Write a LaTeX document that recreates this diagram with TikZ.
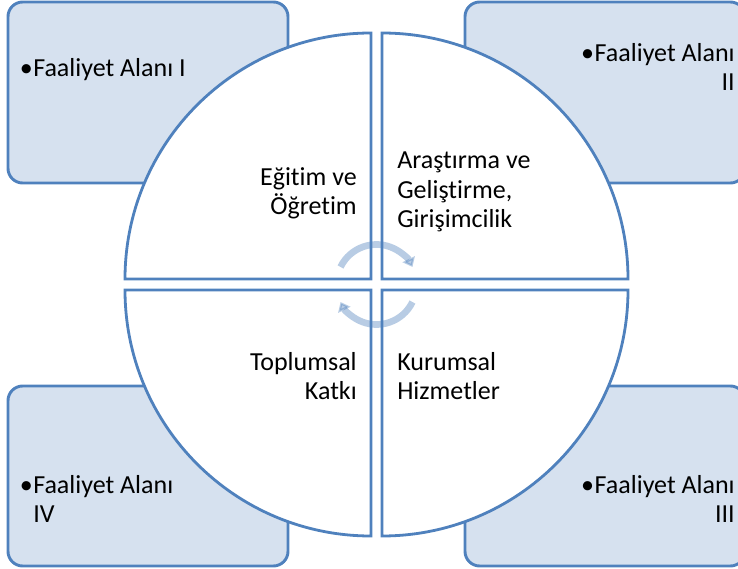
\documentclass[tikz,border=0pt]{standalone}
\usepackage{fontspec}
\setmainfont{Carlito}[Ligatures=NoCommon]
\usetikzlibrary{arrows.meta}

\definecolor{edgeblue}{RGB}{79,129,189}
\definecolor{panelblue}{RGB}{214,225,239}

\begin{document}
\begin{tikzpicture}[x=0.75pt,y=0.75pt]
  \tikzset{panel/.style = {draw=edgeblue, line width=2.2pt, fill=panelblue, rounded corners=11pt}}
  \tikzset{slice/.style = {draw=edgeblue, line width=2.1pt, fill=white}}
  \tikzset{txt/.style = {inner sep=0pt, font=\fontsize{19.5}{21.75}\selectfont}}
  \tikzset{turn/.style = {draw=edgeblue, opacity=0.4, line width=5pt, -{Triangle[width=10pt,length=6.5pt]}}}

  \useasboundingbox (0,0) rectangle (738,568);
  \clip (0,0) rectangle (738,568);

  % corner panels
  \draw[panel] (8,566) rectangle (288,385);
  \draw[panel] (465,566) rectangle (745,385);
  \draw[panel] (8,182) rectangle (288,2);
  \draw[panel] (465,182) rectangle (745,2);

  % circle quarters
  \coordinate (hub) at (376.5,283.5);
  \draw[slice] (371,289) -- (125,289) arc[start angle=180, end angle=90, radius=246] -- cycle;
  \draw[slice] (382,289) -- (382,535) arc[start angle=90, end angle=0, radius=246] -- cycle;
  \draw[slice] (371,278) -- (371,32) arc[start angle=270, end angle=180, radius=246] -- cycle;
  \draw[slice] (382,278) -- (628,278) arc[start angle=0, end angle=-90, radius=246] -- cycle;

  \draw[turn] (hub) ++(154:40) arc[start angle=154, end angle=26, radius=40];
  \draw[turn] (hub) ++(-26:40) arc[start angle=-26, end angle=-154, radius=40];

  % panel texts
  \node[txt, anchor=base west] (fa1) at (33,491) {Faaliyet Alanı I};
  \node[txt, anchor=base east] (dot1) at (fa1.base west) {\textbullet};

  \node[txt, anchor=base east] (fa2) at (735,506) {Faaliyet Alanı};
  \node[txt, anchor=base east] (fa2b) at (735,477) {II};
  \node[txt, anchor=base east] (dot2) at (fa2.base west) {\textbullet};

  \node[txt, anchor=base east] (fa3) at (735,75) {Faaliyet Alanı};
  \node[txt, anchor=base east] (fa3b) at (735,46) {III};
  \node[txt, anchor=base east] (dot3) at (fa3.base west) {\textbullet};

  \node[txt, anchor=base west] (fa4) at (33,75) {Faaliyet Alanı};
  \node[txt, anchor=base west] (fa4b) at (33,46) {IV};
  \node[txt, anchor=base east] (dot4) at (fa4.base west) {\textbullet};

  % quarter texts
  \node[txt, anchor=base east] (egt) at (357,382) {Eğitim ve};
  \node[txt, anchor=base east] (egtb) at (357,353) {Öğretim};

  \node[txt, anchor=base west] (arg) at (397,399) {Araştırma ve};
  \node[txt, anchor=base west] (argb) at (397,369) {Geliştirme,};
  \node[txt, anchor=base west] (argc) at (397,340) {Girişimcilik};

  \node[txt, anchor=base east] (tpl) at (357,198) {Toplumsal};
  \node[txt, anchor=base east] (tplb) at (357,169) {Katkı};

  \node[txt, anchor=base west] (krm) at (397,198) {Kurumsal};
  \node[txt, anchor=base west] (krmb) at (397,169) {Hizmetler};
\end{tikzpicture}
\end{document}
